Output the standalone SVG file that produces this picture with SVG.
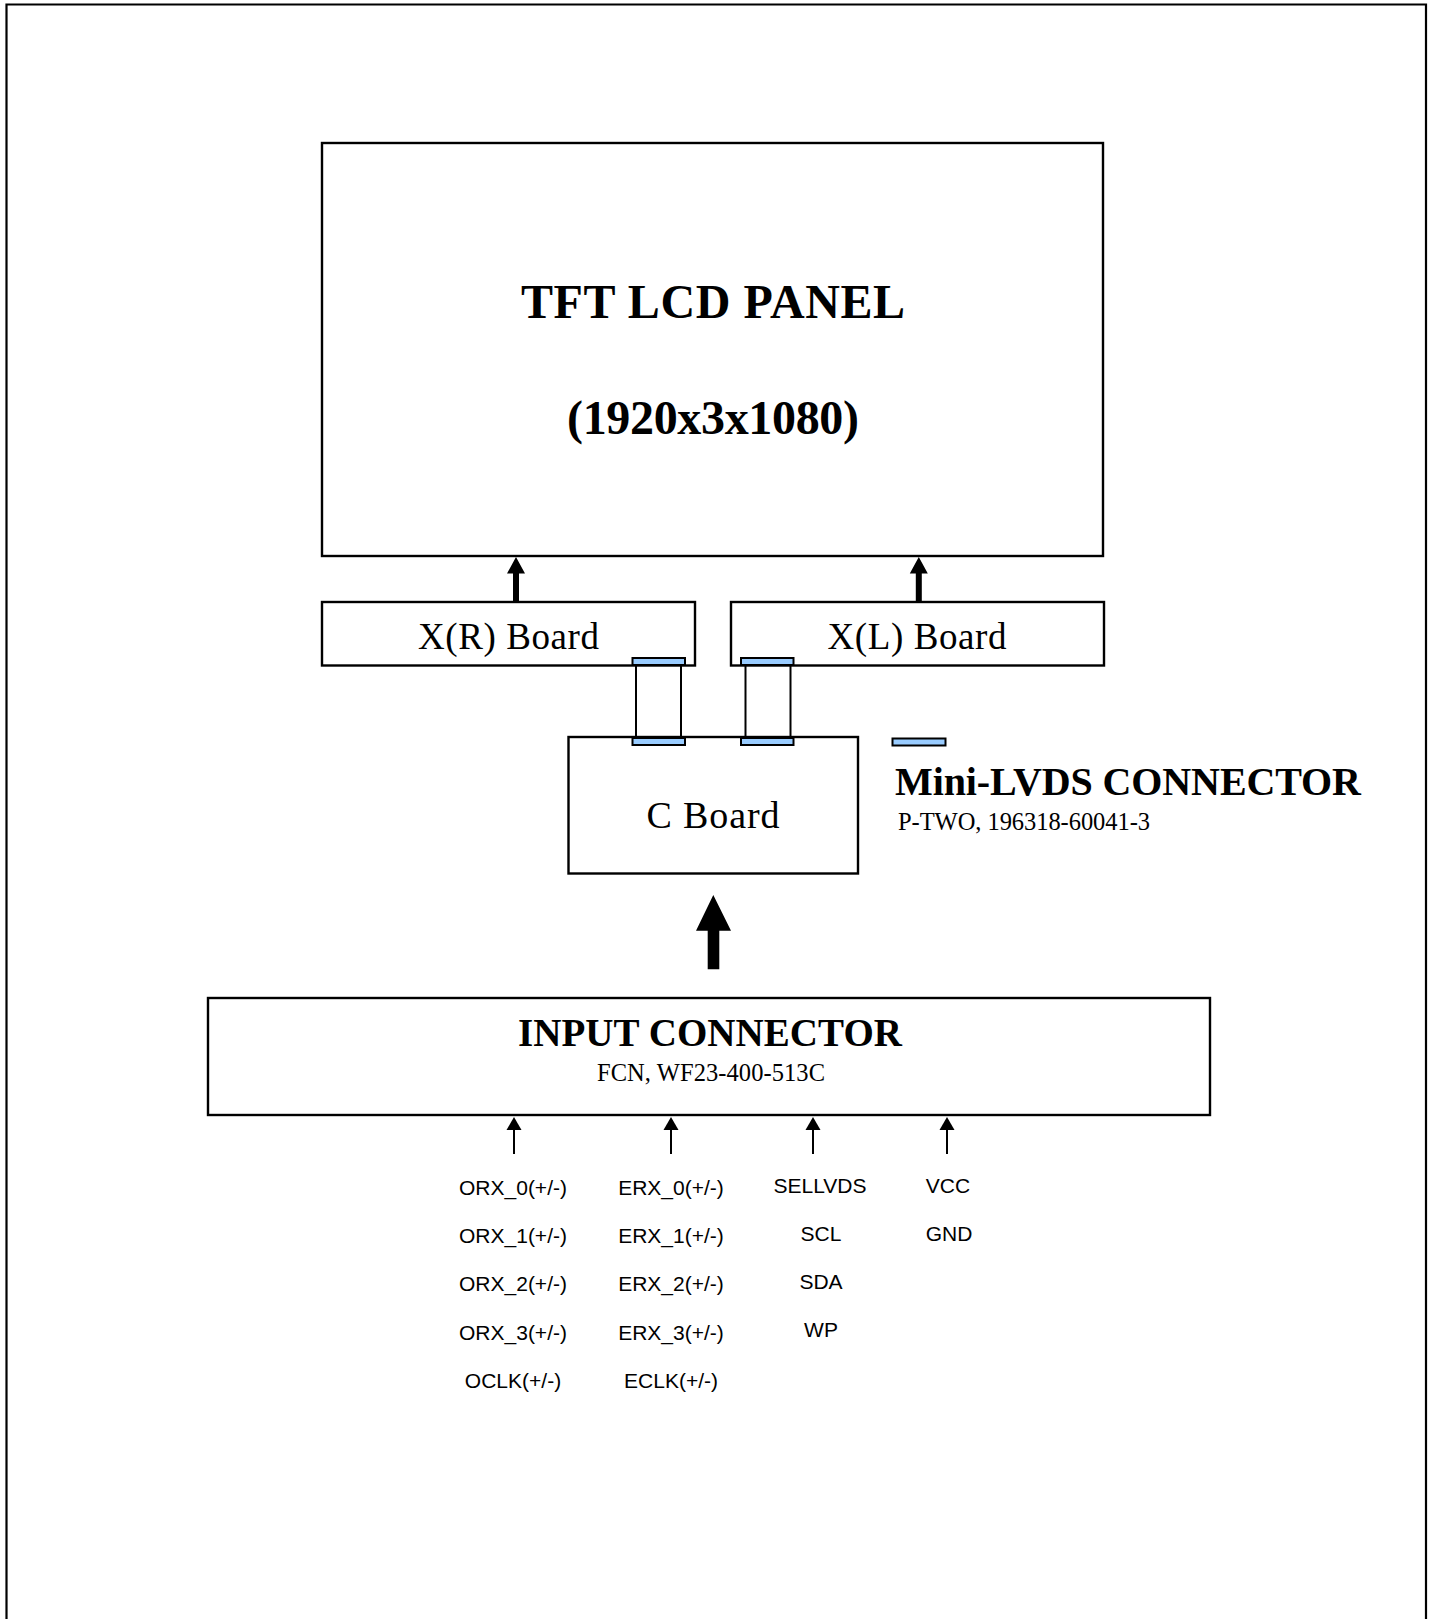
<svg xmlns="http://www.w3.org/2000/svg" width="1433" height="1619" viewBox="0 0 1433 1619">
<defs>
<style>
.box{fill:#fff;stroke:#000;stroke-width:2.4}
.conn{fill:#99CCFF;stroke:#000;stroke-width:2}
.wire{fill:none;stroke:#000;stroke-width:2}
.serif{font-family:"Liberation Serif","Times New Roman",serif;fill:#000}
.b{font-weight:bold}
.sans{font-family:"Liberation Sans",Arial,sans-serif;font-size:21px;fill:#000;text-anchor:middle}
.mid{text-anchor:middle}
</style>
</defs>
<rect width="1433" height="1619" fill="#fff"/>
<path d="M6.5 1630 V4.5 H1426 V1630" fill="none" stroke="#000" stroke-width="2.2"/>

<g id="panel">
<rect class="box" x="322" y="143" width="781" height="413"/>
<text class="serif b mid" x="713" y="318" font-size="48" textLength="384">TFT LCD PANEL</text>
<text class="serif b mid" x="713" y="434" font-size="48" textLength="292">(1920x3x1080)</text>
</g>

<g id="xr-board">
<rect class="box" x="322" y="602" width="373" height="63.5"/>
<text class="serif mid" x="508.5" y="649" font-size="37" textLength="181">X(R) Board</text>
</g>

<g id="xl-board">
<rect class="box" x="731" y="602" width="373" height="63.5"/>
<text class="serif mid" x="917" y="649" font-size="37" textLength="179">X(L) Board</text>
</g>

<g id="c-board">
<rect class="box" x="568.5" y="737" width="289.5" height="136.5"/>
<text class="serif mid" x="713" y="828" font-size="38" textLength="133">C Board</text>
</g>

<g id="input-connector">
<rect class="box" x="208" y="998" width="1002" height="117"/>
<text class="serif b mid" x="710" y="1046" font-size="39" textLength="384">INPUT CONNECTOR</text>
<text class="serif mid" x="711" y="1081" font-size="24.5" textLength="228">FCN, WF23-400-513C</text>
</g>

<g id="legend">
<rect class="conn" x="892.5" y="738.5" width="53" height="7"/>
<text class="serif b" x="895" y="795" font-size="40" textLength="466">Mini-LVDS CONNECTOR</text>
<text class="serif" x="898" y="830" font-size="24.5" textLength="252">P-TWO, 196318-60041-3</text>
</g>

<g id="connectors">
<line class="wire" x1="636" y1="665" x2="636" y2="737"/>
<line class="wire" x1="681" y1="665" x2="681" y2="737"/>
<line class="wire" x1="745.5" y1="665" x2="745.5" y2="737"/>
<line class="wire" x1="790.5" y1="665" x2="790.5" y2="737"/>
<rect class="conn" x="632.5" y="658" width="52.5" height="7"/>
<rect class="conn" x="741" y="658" width="52.5" height="7"/>
<rect class="conn" x="632.5" y="738" width="52.5" height="7"/>
<rect class="conn" x="741" y="738" width="52.5" height="7"/>
<path d="M516 557 L525 573.5 L519 573.5 L519 601 L513 601 L513 573.5 L507 573.5 Z" fill="#000"/>
<path d="M918.8 557 L927.8 573.5 L921.8 573.5 L921.8 601 L915.8 601 L915.8 573.5 L909.8 573.5 Z" fill="#000"/>
<path d="M713.3 895 L731 930.7 L719.3 930.7 L719.3 969.3 L707.7 969.3 L707.7 930.7 L696 930.7 Z" fill="#000"/>
<g fill="#000">
<path d="M514 1117 L521.5 1130 L506.5 1130 Z"/>
<path d="M671 1117 L678.5 1130 L663.5 1130 Z"/>
<path d="M813 1117 L820.5 1130 L805.5 1130 Z"/>
<path d="M947 1117 L954.5 1130 L939.5 1130 Z"/>
</g>
<line class="wire" x1="514" y1="1128" x2="514" y2="1154"/>
<line class="wire" x1="671" y1="1128" x2="671" y2="1154"/>
<line class="wire" x1="813" y1="1128" x2="813" y2="1154"/>
<line class="wire" x1="947" y1="1128" x2="947" y2="1154"/>
</g>

<g id="signals">
<text class="sans" x="513" y="1195">ORX_0(+/-)</text>
<text class="sans" x="513" y="1243">ORX_1(+/-)</text>
<text class="sans" x="513" y="1291">ORX_2(+/-)</text>
<text class="sans" x="513" y="1340">ORX_3(+/-)</text>
<text class="sans" x="513" y="1388">OCLK(+/-)</text>
<text class="sans" x="671" y="1195">ERX_0(+/-)</text>
<text class="sans" x="671" y="1243">ERX_1(+/-)</text>
<text class="sans" x="671" y="1291">ERX_2(+/-)</text>
<text class="sans" x="671" y="1340">ERX_3(+/-)</text>
<text class="sans" x="671" y="1388">ECLK(+/-)</text>
<text class="sans" x="820" y="1193">SELLVDS</text>
<text class="sans" x="821" y="1241">SCL</text>
<text class="sans" x="821" y="1289">SDA</text>
<text class="sans" x="821" y="1337">WP</text>
<text class="sans" x="948" y="1193">VCC</text>
<text class="sans" x="949" y="1241">GND</text>
</g>
</svg>
